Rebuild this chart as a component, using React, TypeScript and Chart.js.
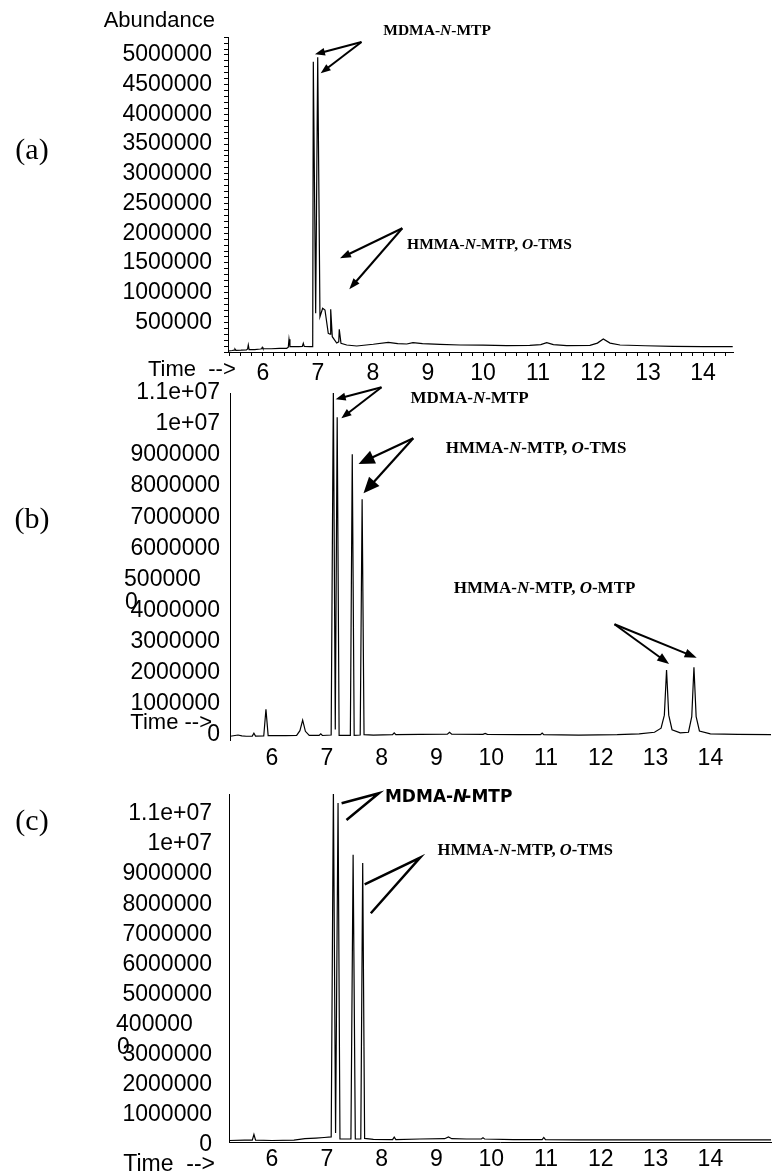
import React, { useEffect, useRef } from "react";
import { Chart, registerables } from "chart.js";

Chart.register(...registerables);

const CANVAS_W = 772;
const CANVAS_H = 1173;

const SANS = "'Liberation Sans', Arial, Helvetica, sans-serif";
const SERIF = "'Liberation Serif', 'Times New Roman', Times, serif";
const DEJAVU = "'DejaVu Sans', Verdana, sans-serif";

// ---------------- data (retention time in min, abundance) ----------------
const timeA = [5.37, 5.44, 5.475, 5.491, 5.51, 5.6, 5.7, 5.72, 5.733, 5.748, 5.85, 5.95, 5.975, 5.987, 6.0, 6.15, 6.3, 6.431, 6.46, 6.473, 6.49, 6.55, 6.65, 6.715, 6.733, 6.75, 6.85, 6.904, 6.915, 6.958, 6.995, 7.036, 7.085, 7.127, 7.187, 7.22, 7.231, 7.26, 7.34, 7.377, 7.387, 7.418, 7.522, 7.704, 8.005, 8.278, 8.45, 8.613, 8.727, 8.9, 9.218, 9.582, 10.0, 10.431, 10.85, 11.05, 11.158, 11.28, 11.522, 11.945, 12.08, 12.187, 12.31, 12.491, 12.95, 13.455, 14.0, 14.54];
const abundanceA = [17000, 25000, 30000, 50000, 28000, 30000, 35000, 50000, 118000, 40000, 40000, 50000, 55000, 79000, 55000, 55000, 60000, 62000, 80000, 214000, 90000, 89000, 90000, 95000, 146000, 95000, 90000, 89000, 4887000, 651000, 4961000, 594000, 735000, 707000, 315000, 300000, 719000, 258000, 152000, 170000, 382000, 146000, 118000, 101000, 130000, 163000, 140000, 135000, 158000, 140000, 130000, 118000, 115000, 107000, 110000, 125000, 157000, 125000, 107000, 112000, 150000, 220000, 150000, 118000, 105000, 95000, 92000, 90000];

const timeB = [5.24, 5.38, 5.45, 5.53, 5.64, 5.67, 5.7, 5.85, 5.89, 5.93, 6.25, 6.45, 6.51, 6.56, 6.61, 6.68, 6.86, 6.89, 6.92, 7.08, 7.12, 7.155, 7.19, 7.225, 7.43, 7.465, 7.5, 7.61, 7.645, 7.68, 7.85, 8.2, 8.23, 8.26, 8.7, 9.2, 9.24, 9.28, 9.85, 9.89, 9.93, 10.5, 10.9, 10.93, 10.96, 11.6, 12.3, 12.7, 12.98, 13.1, 13.16, 13.2, 13.24, 13.3, 13.45, 13.6, 13.66, 13.7, 13.74, 13.8, 14.0, 14.5, 15.22];
const abundanceB = [20000, 60000, 30000, 20000, 25000, 120000, 25000, 30000, 890000, 40000, 40000, 50000, 200000, 540000, 180000, 50000, 50000, 100000, 45000, 60000, 11200000, 240000, 10280000, 50000, 50000, 9090000, 50000, 60000, 7640000, 70000, 60000, 70000, 130000, 70000, 80000, 90000, 150000, 90000, 80000, 110000, 80000, 70000, 70000, 120000, 70000, 60000, 70000, 100000, 150000, 280000, 700000, 2150000, 700000, 230000, 130000, 150000, 650000, 2240000, 650000, 190000, 100000, 80000, 70000];

const timeC = [5.22, 5.5, 5.64, 5.67, 5.7, 6.0, 6.4, 6.6, 6.8, 6.95, 7.08, 7.12, 7.16, 7.205, 7.24, 7.44, 7.48, 7.52, 7.62, 7.655, 7.69, 7.85, 8.2, 8.23, 8.26, 8.7, 9.15, 9.22, 9.28, 9.55, 9.82, 9.85, 9.88, 10.4, 10.93, 10.96, 10.99, 11.6, 12.4, 13.2, 14.0, 15.22];
const abundanceC = [50000, 60000, 60000, 250000, 60000, 50000, 60000, 110000, 130000, 150000, 170000, 11700000, 300000, 11260000, 100000, 100000, 9540000, 100000, 100000, 9270000, 120000, 90000, 80000, 160000, 80000, 100000, 110000, 170000, 110000, 100000, 100000, 140000, 100000, 80000, 80000, 150000, 80000, 70000, 70000, 70000, 70000, 70000];

// ---------------- tick labels ----------------
const xTickValues = [6, 7, 8, 9, 10, 11, 12, 13, 14];
const xTickLabels = ["6", "7", "8", "9", "10", "11", "12", "13", "14"];
const yTickValuesA = [500000, 1000000, 1500000, 2000000, 2500000, 3000000, 3500000, 4000000, 4500000, 5000000];
const yTickLabelsA = ["500000", "1000000", "1500000", "2000000", "2500000", "3000000", "3500000", "4000000", "4500000", "5000000"];
const yTickValuesBC = [0, 1000000, 2000000, 3000000, 4000000, 5000000, 6000000, 7000000, 8000000, 9000000, 10000000, 11000000];
const yTickLabelsB = ["0", "1000000", "2000000", "3000000", "4000000", "500000   ", "6000000", "7000000", "8000000", "9000000", "1e+07", "1.1e+07"];
const yTickLabelsC = ["0", "1000000", "2000000", "3000000", "400000   ", "5000000", "6000000", "7000000", "8000000", "9000000", "1e+07", "1.1e+07"];

// ---------------- annotation text pieces ----------------
type Seg = { text: string; italic?: boolean; kern?: number };
const MDMA_SEGS: Seg[] = [{ text: "MDMA-" }, { text: "N", italic: true }, { text: "-MTP" }];
const MDMA_SANS_SEGS: Seg[] = [{ text: "MDMA-" }, { text: "N", italic: true, kern: -3 }, { text: "-MTP" }];
const TMS_SEGS: Seg[] = [{ text: "HMMA-" }, { text: "N", italic: true }, { text: "-MTP, " }, { text: "O", italic: true }, { text: "-TMS" }];
const MTP_SEGS: Seg[] = [{ text: "HMMA-" }, { text: "N", italic: true }, { text: "-MTP, " }, { text: "O", italic: true }, { text: "-MTP" }];

type Pt = [number, number];
interface ArrowSpec { from: Pt; to: Pt; head: number; half: number; width: number }
interface LabelSpec { at: Pt; segs: Seg[]; size: number; family: string }
interface StrokeSpec { points: Pt[]; width: number }
interface DecoSpec { text: string; x: number; y: number; size: number; family: string; align: CanvasTextAlign }

interface PanelSpec {
  id: string;
  times: number[];
  values: number[];
  area: { left: number; top: number; right: number; bottom: number };
  xMin: number; xMax: number; yMin: number; yMax: number;
  xMinorStep?: number;
  yMinorStep?: number;
  yValues: number[];
  yLabels: string[];
  yPad: number; xPad: number; tickLen: number; yLabelOffset: number;
  xBorder: boolean;
  xAxisH: number;
  labels: LabelSpec[];
  arrows: ArrowSpec[];
  strokes: StrokeSpec[];
  decos: DecoSpec[];
}

const PANELS: PanelSpec[] = [
  {
    id: "a",
    times: timeA, values: abundanceA,
    area: { left: 228, top: 37, right: 733, bottom: 352 },
    xMin: 5.364, xMax: 14.545, yMin: 0, yMax: 5303000,
    xMinorStep: 0.2, yMinorStep: 100000,
    yValues: yTickValuesA, yLabels: yTickLabelsA,
    yPad: 12, xPad: 3.5, tickLen: 4, yLabelOffset: 0, xBorder: true, xAxisH: 40,
    labels: [
      { at: [8.187, 5396000], segs: MDMA_SEGS, size: 15.5, family: SERIF },
      { at: [8.62, 1801000], segs: TMS_SEGS, size: 15.5, family: SERIF },
    ],
    arrows: [
      { from: [7.791, 5219000], to: [6.945, 5012000], head: 10, half: 3.8, width: 2 },
      { from: [7.791, 5219000], to: [7.049, 4692000], head: 10, half: 3.8, width: 2 },
      { from: [8.533, 2083000], to: [7.4, 1577000], head: 11, half: 4, width: 2 },
      { from: [8.533, 2083000], to: [7.569, 1056000], head: 11, half: 4, width: 2 },
    ],
    strokes: [],
    decos: [
      { text: "(a)", x: 32, y: 151, size: 30, family: SERIF, align: "center" },
      { text: "Abundance", x: 215, y: 21, size: 22, family: SANS, align: "right" },
      { text: "Time  -->", x: 148, y: 370, size: 22, family: SANS, align: "left" },
    ],
  },
  {
    id: "b",
    times: timeB, values: abundanceB,
    area: { left: 230, top: 393, right: 771, bottom: 740 },
    xMin: 5.234, xMax: 15.106, yMin: -100000, yMax: 11060000,
    yValues: yTickValuesBC, yLabels: yTickLabelsB,
    yPad: 10, xPad: 4.5, tickLen: 0, yLabelOffset: -2, xBorder: false, xAxisH: 40,
    labels: [
      { at: [8.529, 10868000], segs: MDMA_SEGS, size: 17, family: SERIF },
      { at: [9.17, 9283000], segs: TMS_SEGS, size: 17, family: SERIF },
      { at: [9.317, 4780000], segs: MTP_SEGS, size: 17, family: SERIF },
    ],
    arrows: [
      { from: [7.999, 11245000], to: [7.162, 10859000], head: 10, half: 4, width: 2 },
      { from: [7.999, 11245000], to: [7.266, 10248000], head: 10, half: 4, width: 2 },
      { from: [8.578, 9604000], to: [7.58, 8778000], head: 16, half: 7, width: 2.2 },
      { from: [8.578, 9604000], to: [7.67, 7835000], head: 16, half: 7, width: 2.2 },
      { from: [12.25, 3622000], to: [13.247, 2345000], head: 12, half: 4.5, width: 2 },
      { from: [12.25, 3622000], to: [13.75, 2547000], head: 12, half: 4.5, width: 2 },
    ],
    strokes: [],
    decos: [
      { text: "(b)", x: 32, y: 520, size: 30, family: SERIF, align: "center" },
      { text: "Time -->", x: 212, y: 723, size: 22, family: SANS, align: "right" },
      { text: "0", x: 125, y: 603, size: 23, family: SANS, align: "left" },
    ],
  },
  {
    id: "c",
    times: timeC, values: abundanceC,
    area: { left: 229, top: 794, right: 771, bottom: 1142 },
    xMin: 5.215, xMax: 15.106, yMin: 0, yMax: 11560000,
    yValues: yTickValuesBC, yLabels: yTickLabelsC,
    yPad: 17, xPad: 4, tickLen: 0, yLabelOffset: 3, xBorder: true, xAxisH: 28,
    labels: [
      { at: [8.061, 11452000], segs: MDMA_SANS_SEGS, size: 17, family: DEJAVU },
      { at: [9.022, 9668000], segs: TMS_SEGS, size: 16.5, family: SERIF },
    ],
    arrows: [],
    strokes: [
      { points: [[7.27, 11252000], [7.951, 11585000], [7.359, 10698000]], width: 2.5 },
      { points: [[7.691, 8561000], [8.704, 9445000], [7.803, 7598000]], width: 2.5 },
    ],
    decos: [
      { text: "(c)", x: 32, y: 822, size: 30, family: SERIF, align: "center" },
      { text: "Time  -->", x: 215, y: 1165, size: 23, family: SANS, align: "right" },
      { text: "0", x: 117, y: 1048, size: 23, family: SANS, align: "left" },
    ],
  },
];

function drawArrow(ctx: CanvasRenderingContext2D, x1: number, y1: number, x2: number, y2: number, head: number, half: number, width: number) {
  const ang = Math.atan2(y2 - y1, x2 - x1);
  const c = Math.cos(ang);
  const s = Math.sin(ang);
  const bx = x2 - head * c;
  const by = y2 - head * s;
  ctx.lineWidth = width;
  ctx.beginPath();
  ctx.moveTo(x1, y1);
  ctx.lineTo(bx + c, by + s);
  ctx.stroke();
  ctx.beginPath();
  ctx.moveTo(x2, y2);
  ctx.lineTo(bx + half * s, by - half * c);
  ctx.lineTo(bx - half * s, by + half * c);
  ctx.closePath();
  ctx.fill();
}

function overlayPlugin(spec: PanelSpec) {
  return {
    id: "overlay-" + spec.id,
    afterDraw(chart: any) {
      const ctx: CanvasRenderingContext2D = chart.ctx;
      const xs = chart.scales.x;
      const ys = chart.scales.y;
      const px = (p: Pt): [number, number] => [xs.getPixelForValue(p[0]), ys.getPixelForValue(p[1])];
      ctx.save();
      ctx.fillStyle = "#000";
      ctx.strokeStyle = "#000";
      ctx.lineCap = "butt";
      ctx.lineJoin = "miter";
      for (const a of spec.arrows) {
        const [x1, y1] = px(a.from);
        const [x2, y2] = px(a.to);
        drawArrow(ctx, x1, y1, x2, y2, a.head, a.half, a.width);
      }
      for (const st of spec.strokes) {
        ctx.lineWidth = st.width;
        ctx.beginPath();
        st.points.forEach((p, i) => {
          const [x, y] = px(p);
          if (i === 0) ctx.moveTo(x, y);
          else ctx.lineTo(x, y);
        });
        ctx.stroke();
      }
      ctx.textBaseline = "middle";
      ctx.textAlign = "left";
      for (const l of spec.labels) {
        let [x, y] = px(l.at);
        for (const s of l.segs) {
          ctx.font = `${s.italic ? "italic " : ""}bold ${l.size}px ${l.family}`;
          ctx.fillText(s.text, x, y);
          x += ctx.measureText(s.text).width + (s.kern || 0);
        }
      }
      for (const d of spec.decos) {
        ctx.font = `${d.size}px ${d.family}`;
        ctx.textAlign = d.align;
        ctx.fillText(d.text, d.x, d.y);
      }
      ctx.restore();
    },
  };
}

function findLabel(values: number[], labels: string[], v: number, tol: number): string {
  for (let i = 0; i < values.length; i++) {
    if (Math.abs(values[i] - v) < tol) return labels[i];
  }
  return "";
}

function buildConfig(spec: PanelSpec): any {
  const { area } = spec;
  const tickFont = { family: SANS, size: 23, lineHeight: 1.2 };
  const showTicks = spec.tickLen > 0;
  return {
    type: "line",
    data: {
      datasets: [
        {
          data: spec.times.map((t, i) => ({ x: t, y: spec.values[i] })),
          borderColor: "#000",
          borderWidth: 1.2,
          pointRadius: 0,
          tension: 0,
          fill: false,
        },
      ],
    },
    options: {
      responsive: false,
      animation: false,
      events: [],
      layout: {
        padding: {
          left: 10,
          top: area.top,
          right: CANVAS_W - area.right,
          bottom: CANVAS_H - area.bottom - spec.xAxisH,
        },
      },
      plugins: { legend: { display: false }, tooltip: { enabled: false }, title: { display: false } },
      scales: {
        x: {
          type: "linear",
          bounds: "data",
          min: spec.xMin,
          max: spec.xMax,
          afterFit: (s: any) => { s.height = spec.xAxisH; },
          afterBuildTicks: (s: any) => {
            if (spec.xMinorStep) {
              const st = spec.xMinorStep;
              const ticks: { value: number }[] = [];
              for (let k = Math.ceil(spec.xMin / st - 1e-9); k * st <= spec.xMax + 1e-9; k++) {
                ticks.push({ value: Math.round(k * st * 1000) / 1000 });
              }
              s.ticks = ticks;
            } else {
              s.ticks = xTickValues.map((v) => ({ value: v }));
            }
          },
          ticks: {
            autoSkip: false,
            maxRotation: 0,
            minRotation: 0,
            padding: spec.xPad,
            color: "#000",
            font: tickFont,
            callback: (v: number) => findLabel(xTickValues, xTickLabels, v, 1e-6),
          },
          grid: {
            display: showTicks,
            drawOnChartArea: false,
            drawTicks: showTicks,
            tickLength: spec.tickLen,
            color: "#000",
            lineWidth: 1,
          },
          border: { display: spec.xBorder, color: "#000", width: 1 },
        },
        y: {
          type: "linear",
          bounds: "data",
          min: spec.yMin,
          max: spec.yMax,
          afterFit: (s: any) => { s.width = area.left - 10; },
          afterBuildTicks: (s: any) => {
            if (spec.yMinorStep) {
              const st = spec.yMinorStep;
              const ticks: { value: number }[] = [];
              for (let k = 0; k * st <= spec.yMax + 1e-6; k++) ticks.push({ value: k * st });
              s.ticks = ticks;
            } else {
              s.ticks = spec.yValues.map((v) => ({ value: v }));
            }
          },
          ticks: {
            autoSkip: false,
            padding: spec.yPad,
            labelOffset: spec.yLabelOffset,
            color: "#000",
            font: tickFont,
            callback: (v: number) => findLabel(spec.yValues, spec.yLabels, v, 1),
          },
          grid: {
            display: showTicks,
            drawOnChartArea: false,
            drawTicks: showTicks,
            tickLength: spec.tickLen,
            color: "#000",
            lineWidth: 1,
          },
          border: { display: true, color: "#000", width: 1 },
        },
      },
    },
    plugins: [overlayPlugin(spec)],
  };
}

export default function App() {
  const refs = useRef<(HTMLCanvasElement | null)[]>([]);

  useEffect(() => {
    const charts = PANELS.map((spec, i) => new Chart(refs.current[i] as HTMLCanvasElement, buildConfig(spec)));
    return () => {
      charts.forEach((c) => c.destroy());
    };
  }, []);

  return (
    <div
      style={{
        position: "absolute",
        left: 0,
        top: 0,
        width: CANVAS_W,
        height: CANVAS_H,
        background: "#fff",
        overflow: "hidden",
      }}
    >
      {PANELS.map((p, i) => (
        <canvas
          key={p.id}
          ref={(el) => { refs.current[i] = el; }}
          width={CANVAS_W}
          height={CANVAS_H}
          style={{ position: "absolute", left: 0, top: 0, width: CANVAS_W + "px", height: CANVAS_H + "px" }}
        />
      ))}
    </div>
  );
}
